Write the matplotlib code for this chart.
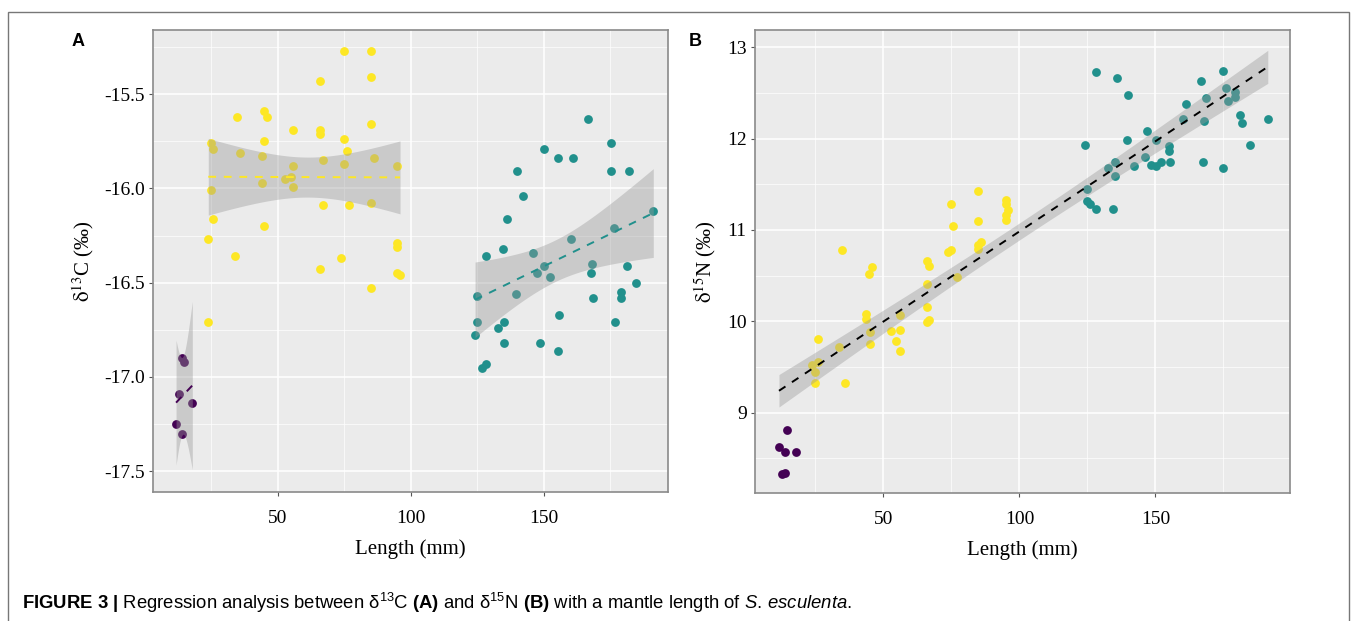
import numpy as np
import matplotlib.pyplot as plt
from matplotlib.patches import Rectangle
from matplotlib.ticker import MultipleLocator

plt.rcParams['font.family'] = 'Liberation Serif'
plt.rcParams['mathtext.fontset'] = 'custom'
plt.rcParams['mathtext.rm'] = 'Liberation Sans'
plt.rcParams['mathtext.bf'] = 'Liberation Sans:bold'
plt.rcParams['mathtext.it'] = 'Liberation Sans:italic'

purple = "#440154"
teal = "#21908C"
yellow = "#FDE725"

# panel A: d13C vs length
a_purple_x = [13.8, 14.8, 12.8, 17.8, 11.7, 13.8]
a_purple_y = [-16.90, -16.92, -17.09, -17.14, -17.25, -17.30]

a_yellow_x = [74.8, 84.8, 65.8, 84.8, 34.7, 44.9, 45.7, 84.8, 55.8, 65.8, 65.8, 74.8, 44.9, 24.7,
              25.7, 35.7, 43.9, 75.8, 66.8, 74.8, 86.0, 55.8, 94.8, 54.9, 52.8, 43.9, 55.8, 24.7,
              66.8, 76.8, 84.8, 25.7, 44.9, 23.8, 94.8, 94.8, 33.8, 73.8, 65.8, 94.8, 95.9, 84.8, 23.8]
a_yellow_y = [-15.27, -15.27, -15.43, -15.41, -15.62, -15.59, -15.62, -15.66, -15.69, -15.69, -15.71,
              -15.74, -15.75, -15.76, -15.79, -15.81, -15.83, -15.80, -15.85, -15.87, -15.84, -15.88,
              -15.88, -15.94, -15.95, -15.97, -15.99, -16.01, -16.09, -16.09, -16.08, -16.16, -16.20,
              -16.27, -16.29, -16.31, -16.36, -16.37, -16.43, -16.45, -16.46, -16.53, -16.71]

a_teal_x = [166.7, 150.0, 175.1, 155.1, 161.0, 140.0, 175.1, 182.1, 142.0, 136.0, 191.1, 176.2, 160.0,
            134.5, 146.0, 128.1, 150.0, 168.2, 147.2, 152.1, 167.5, 181.1, 184.6, 124.9, 139.6, 168.6,
            179.1, 179.1, 124.9, 135.1, 132.6, 155.5, 176.7, 124.1, 135.1, 148.5, 155.1, 128.1, 126.6]
a_teal_y = [-15.63, -15.79, -15.76, -15.84, -15.84, -15.91, -15.91, -15.91, -16.04, -16.16, -16.12,
            -16.21, -16.27, -16.32, -16.34, -16.36, -16.41, -16.40, -16.45, -16.47, -16.45, -16.41,
            -16.50, -16.57, -16.56, -16.58, -16.55, -16.58, -16.71, -16.71, -16.74, -16.67, -16.71,
            -16.78, -16.82, -16.82, -16.86, -16.93, -16.95]

# panel B: d15N vs length
b_purple_x = [14.7, 11.6, 13.8, 17.9, 12.6, 13.8]
b_purple_y = [8.81, 8.62, 8.57, 8.57, 8.33, 8.34]

b_yellow_x = [84.9, 74.7, 94.9, 94.9, 95.9, 94.9, 94.9, 84.9, 75.7, 34.8, 85.8, 84.9, 84.9, 74.7,
              73.8, 45.9, 44.8, 65.9, 66.9, 76.9, 65.9, 56.0, 65.9, 43.7, 43.7, 65.9, 66.9, 45.0,
              52.9, 56.0, 45.0, 54.8, 56.0, 25.8, 33.8, 23.7, 25.8, 24.8, 24.8, 35.8]
b_yellow_y = [11.43, 11.29, 11.33, 11.29, 11.22, 11.16, 11.11, 11.10, 11.04, 10.78, 10.87, 10.84,
              10.79, 10.78, 10.76, 10.59, 10.52, 10.66, 10.61, 10.48, 10.41, 10.07, 10.16, 10.08,
              10.02, 9.99, 10.01, 9.88, 9.89, 9.91, 9.75, 9.78, 9.67, 9.81, 9.72, 9.52, 9.55,
              9.44, 9.33, 9.33]

b_teal_x = [128.0, 136.0, 175.0, 166.6, 140.0, 176.0, 179.1, 179.3, 168.6, 176.5, 161.1, 181.1,
            182.0, 191.3, 160.1, 168.0, 147.0, 139.6, 124.0, 150.1, 184.6, 155.1, 155.1, 146.1,
            148.3, 150.1, 152.0, 155.5, 167.6, 175.0, 142.1, 135.0, 132.6, 135.0, 124.9, 124.9,
            126.1, 128.0, 134.4]
b_teal_y = [12.73, 12.66, 12.74, 12.63, 12.48, 12.56, 12.51, 12.46, 12.44, 12.41, 12.38, 12.26,
            12.17, 12.22, 12.22, 12.19, 12.08, 11.99, 11.93, 11.98, 11.93, 11.92, 11.87, 11.80,
            11.71, 11.70, 11.74, 11.75, 11.75, 11.68, 11.70, 11.75, 11.68, 11.59, 11.45, 11.32,
            11.28, 11.23, 11.23]


def t_quant(df):
    z = 1.959964
    return (z + (z**3 + z) / (4 * df) + (5 * z**5 + 16 * z**3 + 3 * z) / (96 * df**2)
            + (3 * z**7 + 19 * z**5 + 17 * z**3 - 15 * z) / (384 * df**3))


def smooth(ax, x, y, color):
    x = np.array(x)
    y = np.array(y)
    n = len(x)
    m, b = np.polyfit(x, y, 1)
    s = np.sqrt(np.sum((y - (m * x + b)) ** 2) / (n - 2))
    sxx = np.sum((x - x.mean()) ** 2)
    xs = np.linspace(x.min(), x.max(), 80)
    fit = m * xs + b
    ci = t_quant(n - 2) * s * np.sqrt(1 / n + (xs - x.mean()) ** 2 / sxx)
    ax.fill_between(xs, fit - ci, fit + ci, color="#999999", alpha=0.4, lw=0, zorder=3)
    ax.plot(xs, fit, color=color, lw=1.4, ls=(0, (4, 4)), zorder=4)


def style(ax):
    ax.set_facecolor("#EBEBEB")
    ax.grid(which="major", color="white", lw=1.1, zorder=0)
    ax.grid(which="minor", color="white", lw=0.5, zorder=0)
    ax.set_axisbelow(True)
    for sp in ax.spines.values():
        sp.set_color("#8a8a8a")
        sp.set_linewidth(1.2)
    ax.tick_params(which="major", length=3, color="#555555", labelsize=14, pad=3)
    ax.tick_params(axis="x", which="major", pad=10)
    ax.tick_params(which="minor", length=0)


fig = plt.figure(figsize=(13.57, 6.21), dpi=100)

fig.patches.append(Rectangle((0.0059, -0.02), 0.988, 1.0007, transform=fig.transFigure,
                             fill=False, edgecolor="#777777", lw=1.0))

axA = fig.add_axes([0.1127, 0.2077, 0.3795, 0.7440])
axB = fig.add_axes([0.5564, 0.2061, 0.3943, 0.7456])

for x, y, c in [(a_purple_x, a_purple_y, purple), (a_yellow_x, a_yellow_y, yellow), (a_teal_x, a_teal_y, teal)]:
    axA.scatter(x, y, s=40, color=c, lw=0, zorder=2)
    smooth(axA, x, y, c)

for x, y, c in [(b_purple_x, b_purple_y, purple), (b_yellow_x, b_yellow_y, yellow), (b_teal_x, b_teal_y, teal)]:
    axB.scatter(x, y, s=40, color=c, lw=0, zorder=2)
smooth(axB, b_purple_x + b_yellow_x + b_teal_x, b_purple_y + b_yellow_y + b_teal_y, "black")

axA.set_xlim(3.0, 196.6)
axA.set_ylim(-17.61, -15.16)
axA.set_xticks([50, 100, 150])
axA.xaxis.set_minor_locator(MultipleLocator(25))
axA.yaxis.set_minor_locator(MultipleLocator(0.25))
axA.set_yticks([-17.5, -17.0, -16.5, -16.0, -15.5])
axA.set_yticklabels(["-17.5", "-17.0", "-16.5", "-16.0", "-15.5"])

axB.set_xlim(2.8, 199.5)
axB.set_ylim(8.12, 13.19)
axB.set_xticks([50, 100, 150])
axB.xaxis.set_minor_locator(MultipleLocator(25))
axB.set_yticks([9, 10, 11, 12, 13])
axB.yaxis.set_minor_locator(MultipleLocator(0.5))

style(axA)
style(axB)

axA.set_xlabel("Length (mm)", fontsize=15)
axB.set_xlabel("Length (mm)", fontsize=15)
axA.set_ylabel(r"$\mathrm{\delta}^{13}$C (‰)", fontsize=15, math_fontfamily="stix")
axB.set_ylabel(r"$\mathrm{\delta}^{15}$N (‰)", fontsize=15, math_fontfamily="stix")
axA.xaxis.set_label_coords(0.5, -0.102)
axB.xaxis.set_label_coords(0.5, -0.102)
axA.yaxis.set_label_coords(-0.111, 0.5)
axB.yaxis.set_label_coords(-0.069, 0.5)

fig.text(78 / 1357, 1 - 42 / 621, "A", fontsize=13, fontweight="bold", fontfamily="Liberation Sans", ha="center", va="center")
fig.text(695 / 1357, 1 - 42 / 621, "B", fontsize=13, fontweight="bold", fontfamily="Liberation Sans", ha="center", va="center")

caption = (r"$\mathbf{FIGURE\ 3\ |}$ Regression analysis between $\mathrm{\delta}^{13}$C $\mathbf{(A)}$ and "
           r"$\mathrm{\delta}^{15}$N $\mathbf{(B)}$ with a mantle length of $\mathit{S.\,esculenta.}$")
fig.text(22 / 1357, 1 - 603 / 621, caption, fontsize=13.3, fontfamily="Liberation Sans", ha="left", va="center")

plt.savefig("out.png", dpi=100)
plt.close()
